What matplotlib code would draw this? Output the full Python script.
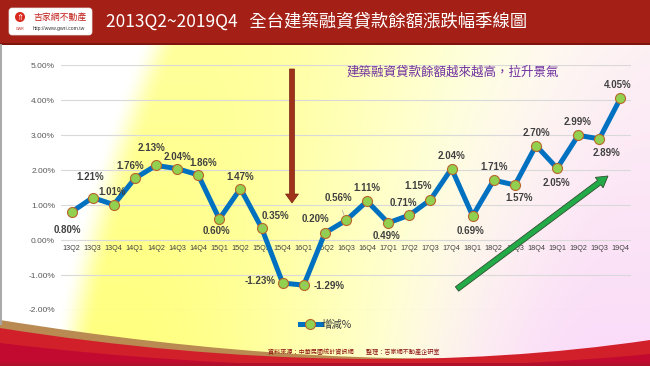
import numpy as np
import matplotlib
matplotlib.use("Agg")
import matplotlib.pyplot as plt
from matplotlib.patches import FancyArrow, FancyBboxPatch, PathPatch, Circle
from matplotlib.path import Path

plt.rcParams['axes.unicode_minus'] = False

# ---------------- data ----------------
quarters = ["13Q2", "13Q3", "13Q4", "14Q1", "14Q2", "14Q3", "14Q4", "15Q1", "15Q2",
            "15Q3", "15Q4", "16Q1", "16Q2", "16Q3", "16Q4", "17Q1", "17Q2", "17Q3",
            "17Q4", "18Q1", "18Q2", "18Q3", "18Q4", "19Q1", "19Q2", "19Q3", "19Q4"]
change_pct = [0.80, 1.21, 1.01, 1.76, 2.13, 2.04, 1.86, 0.60, 1.47, 0.35, -1.23, -1.29,
              0.20, 0.56, 1.11, 0.49, 0.71, 1.15, 2.04, 0.69, 1.71, 1.57, 2.70, 2.05,
              2.99, 2.89, 4.05]
y_ticks = [-2, -1, 0, 1, 2, 3, 4, 5]
series_name = "增減%"
title = "2013Q2~2019Q4   全台建築融資貸款餘額漲跌幅季線圖"
note = "建築融資貸款餘額越來越高，拉升景氣"
source = "資料來源：中華民國統計資訊網　　整理：吉家網不動產企研室"

# label offsets in pixels (dx, dy; dy positive = down)
label_off = [(-4, 18), (-2, -21), (-2, -13), (-5, -12), (-4, -17), (0, -12), (5, -12),
             (-3, 12), (0, -12), (14, -12), (-23, -2), (25, 1), (-9, -14), (-8, -22),
             (0, -13), (-2, 13), (-6, -12), (-12, -14), (0, -13), (-2, 15), (0, -13),
             (4, 13), (0, -13), (-1, 15), (-1, -13), (7, 14), (-3, -13)]
leader = {0, 9, 11, 12, 13, 25}

CJK = ['Noto Sans CJK TC', 'DejaVu Sans']
LAT = ['Liberation Sans', 'DejaVu Sans']

W, H = 650, 366
fig = plt.figure(figsize=(6.5, 3.66), dpi=100)

# ---------------- background ----------------
bg = fig.add_axes([0, 0, 1, 1], zorder=0)
bg.set_xlim(0, W)
bg.set_ylim(H, 0)
bg.axis('off')

yy, xx = np.mgrid[0:H, 0:W].astype(float)
xb = 150 - 0.42 * (yy - 30) + 0.0004 * (yy - 30) ** 2
d = xx - xb


def smooth(v, a, b):
    t = np.clip((v - a) / (b - a), 0, 1)
    return t * t * (3 - 2 * t)


Pv = smooth(d, 300, 540) * (0.35 + 0.65 * yy / H)
Yv = smooth(d, -5, 35) * (1 - 0.85 * smooth(d, 60, 460)) * (0.72 + 0.28 * yy / H) * (1 - Pv)
R = 255 - 5 * Pv
G = 255 - 36 * Pv
B = 255 - 130 * Yv - 6 * Pv
img = np.clip(np.dstack([R, G, B]) / 255.0, 0, 1)
bg.imshow(img, extent=(0, W, H, 0), aspect='auto', interpolation='bilinear')

# title bar
bg.add_patch(plt.Rectangle((0, 0), W, 43, color='#A41F15', lw=0))
bg.add_patch(plt.Rectangle((0, 43), W, 2, color='#7E140E', lw=0))
bg.text(106, 22, title, color='white', fontsize=12.5, family=CJK, va='center', ha='left')

# logo
bg.add_patch(FancyBboxPatch((9, 8), 83, 27, boxstyle="round,pad=0,rounding_size=3",
                            fc='white', ec='#E8E8E8', lw=0.5))
bg.add_patch(Circle((20, 17), 5, fc='#D9281E', ec='none'))
bg.text(20, 17.5, "⇑", color='white', fontsize=6, ha='center', va='center', family=['DejaVu Sans'])
bg.text(20, 28.5, "GWR", color='#C0201A', fontsize=2.6, ha='center', va='center', family=LAT)
bg.text(33, 17, "吉家網不動產", color='#C0201A', fontsize=6.4, ha='left', va='center', family=CJK)
bg.text(33, 28.5, "http://www.gwri.com.tw", color='#333333', fontsize=3.7, ha='left', va='center', family=LAT)

# left frame line
bg.plot([1.2, 1.2], [45, 324], color='#A8A8A8', lw=1.4)

# bottom swoosh
def band(p0, c1, c2, p3):
    verts = [p0, c1, c2, p3, (W, H), (0, H), p0]
    codes = [Path.MOVETO, Path.CURVE4, Path.CURVE4, Path.CURVE4, Path.LINETO, Path.LINETO, Path.CLOSEPOLY]
    return Path(verts, codes)

bg.add_patch(PathPatch(band((0, 320), (200, 352), (420, 372), (W, 348)), fc='#B98A52', ec='none'))
bg.add_patch(PathPatch(band((0, 328), (240, 366), (460, 368), (W, 340)), fc='#D2202B', ec='none'))
bg.add_patch(PathPatch(band((0, 343), (240, 372), (460, 372), (W, 354)), fc='#C20A30', ec='none'))
bg.add_patch(plt.Rectangle((0, 363), W, 3, color='#B0102A', lw=0))

# ---------------- chart ----------------
ax = fig.add_axes([61 / W, 1 - 310 / H, 570 / W, 245 / H], zorder=2)
ax.set_facecolor('none')
for s in ax.spines.values():
    s.set_visible(False)
ax.spines['bottom'].set_position(('data', 0))

x = np.arange(len(quarters))
ax.plot(x, change_pct, color='#0070C0', lw=3.6, marker='o', ms=7.2,
        mfc='#92D050', mec='#B9652C', mew=0.8, solid_joinstyle='round', label=series_name, zorder=3)
ax.set_xlim(-0.5, len(quarters) - 0.5)
ax.set_ylim(-2, 5)
ax.set_yticks(y_ticks)
ax.set_yticklabels([f"{v:.2f}%" for v in y_ticks])
ax.set_xticks(x)
ax.set_xticklabels(quarters)
ax.tick_params(axis='both', length=0)
ax.tick_params(axis='y', pad=4.3, labelsize=6, labelcolor='#595959')
ax.tick_params(axis='x', pad=3.5, labelsize=5.2, labelcolor='#404040')
for t in ax.get_xticklabels() + ax.get_yticklabels():
    t.set_family(LAT)
ax.yaxis.grid(True, color='#D9D9D9', lw=0.8)
ax.set_axisbelow(True)

for i, (v, (dx, dy)) in enumerate(zip(change_pct, label_off)):
    kw = {}
    if i in leader:
        kw['arrowprops'] = dict(arrowstyle='-', color='#A6A6A6', lw=0.5, shrinkA=3, shrinkB=4)
    ax.annotate(f"{v:.2f}%", xy=(i, v), xytext=(dx * 0.72, -dy * 0.72), textcoords='offset points',
                ha='center', va='center', fontsize=7, fontweight='bold', color='#404040',
                family=LAT, zorder=4, **kw)

# ---------------- overlay ----------------
ov = fig.add_axes([0, 0, 1, 1], zorder=5)
ov.set_xlim(0, W)
ov.set_ylim(H, 0)
ov.axis('off')
ov.patch.set_alpha(0)

ov.add_patch(FancyArrow(292, 69, 0, 134, width=5, head_width=13, head_length=9,
                        length_includes_head=True, fc='#A0311A', ec='#7A2412', lw=0.5))
ov.add_patch(FancyArrow(457, 289, 151, -113, width=5.5, head_width=13, head_length=11,
                        length_includes_head=True, fc='#22AA48', ec='#30502E', lw=0.6))

ov.text(453, 72, note, color='#7030A0', fontsize=9, family=CJK, ha='center', va='center')

leg = ax.legend(loc='center', bbox_to_anchor=(326 / W, 1 - 325 / H), bbox_transform=fig.transFigure,
                frameon=False, prop={'family': CJK, 'size': 7.5}, handlelength=2.0,
                handletextpad=0.1, borderpad=0)
for t in leg.get_texts():
    t.set_color('#404040')

ov.text(268, 352, source, color='#8B1010', fontsize=4.4, family=CJK, ha='left', va='center')

fig.savefig("out.png", dpi=100)
